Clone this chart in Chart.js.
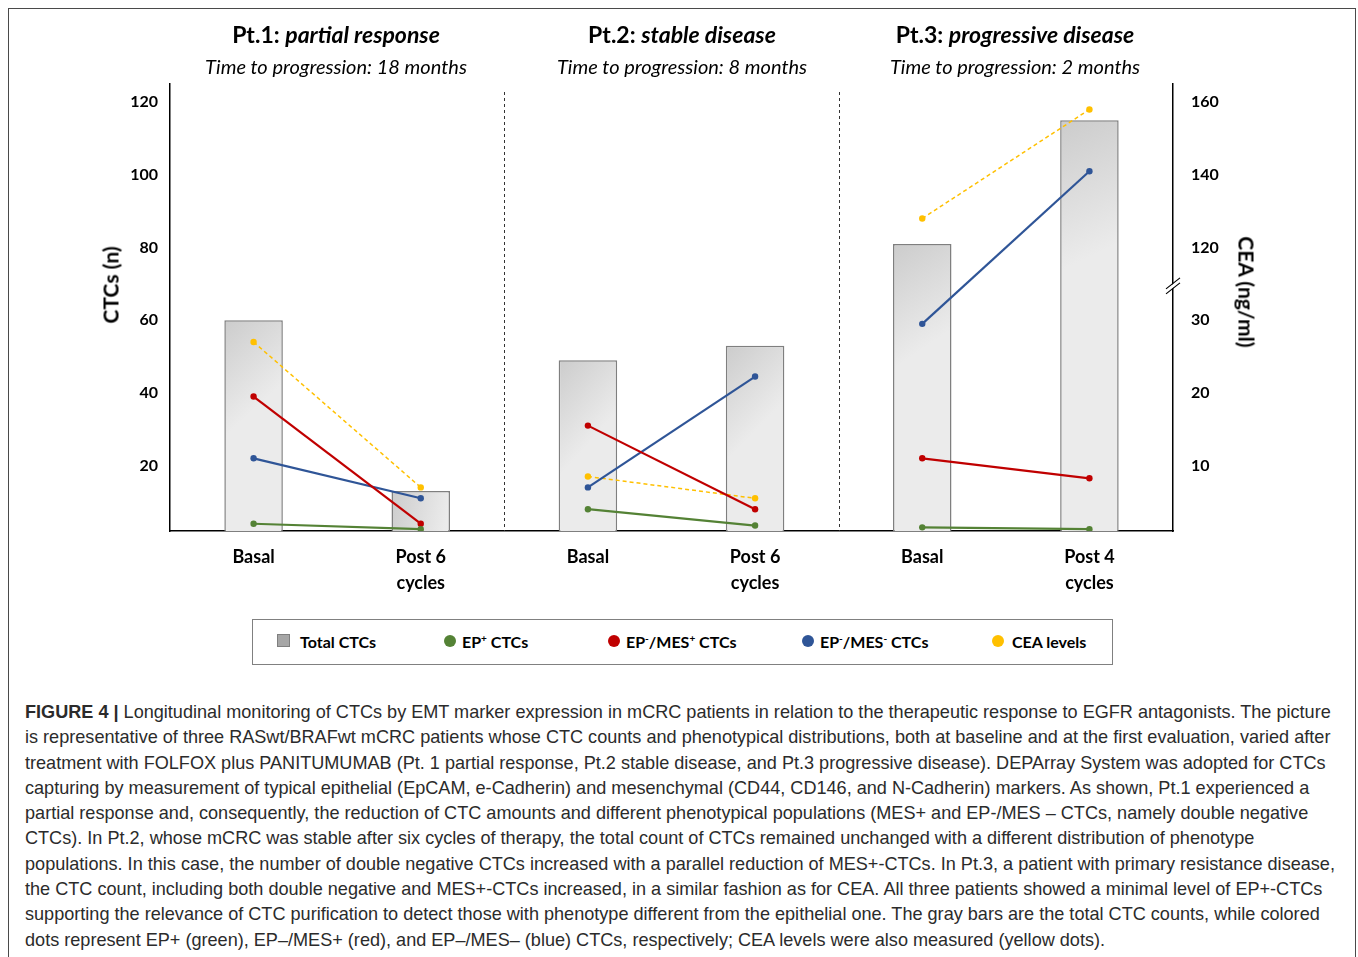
<!DOCTYPE html>
<html>
<head>
<meta charset="utf-8">
<script src="https://cdn.jsdelivr.net/npm/chart.js@4.4.1/dist/chart.umd.min.js"></script>
<style>
  body { margin: 0; background: #fff; width: 1358px; height: 957px; overflow: hidden; position: relative; font-family: Lato, "Open Sans", sans-serif; }
  #frame { position: absolute; left: 8px; top: 8px; width: 1348px; height: 1000px; border: 1.5px solid #4a4a4a; box-sizing: border-box; }
  #wrap { position: absolute; left: 0; top: 0; }
  .ttl { position: absolute; transform: translateX(-50%); white-space: nowrap; color: #000; }
  .ttl.main { top: 20px; font-size: 23px; font-weight: 700; }
  .ttl.sub { top: 54px; font-size: 20px; font-style: italic; }
  .axt { position: absolute; font-size: 21px; font-weight: 700; white-space: nowrap; color: #000; }
  #legend { position: absolute; left: 252px; top: 619px; width: 861px; height: 46px; border: 1.5px solid #808080; box-sizing: border-box; }
  .lg { position: absolute; top: 12px; font-size: 16px; font-weight: 700; white-space: nowrap; color: #000; }
  .lg sup { font-size: 10px; vertical-align: 6px; line-height: 0; }
  .sw { position: absolute; top: 15px; width: 12px; height: 12px; border-radius: 50%; }
  #caption { position: absolute; left: 25px; top: 700px; width: 1320px; font-family: "Liberation Sans", sans-serif; font-size: 18.1px; line-height: 25.3px; color: #2b2b2b; }
  #caption div { white-space: nowrap; }
</style>
</head>
<body>
<div id="frame"></div>
<div id="wrap"><canvas id="myChart" width="1358" height="610"></canvas></div>
<div id="titles"></div>
<div class="axt" style="left:110px; top:285px; transform: translate(-50%,-50%) rotate(-90deg);">CTCs (n)</div>
<div class="axt" style="left:1247px; top:292px; transform: translate(-50%,-50%) rotate(90deg);">CEA (ng/ml)</div>
<div id="legend"></div>
<div id="caption"></div>
<script>
// panels
const patients = ["Pt.1:", "Pt.2:", "Pt.3:"];
const responses = ["partial response", "stable disease", "progressive disease"];
const progression = ["Time to progression: 18 months", "Time to progression: 8 months", "Time to progression: 2 months"];
const titleX = [336, 682, 1015];

// chart data
const categories = [["Basal"], ["Post 6", "cycles"], ["Basal"], ["Post 6", "cycles"], ["Basal"], ["Post 4", "cycles"]];
const totalCTCs = [60, 13, 49, 53, 81, 115];
const epPos = [4, 2.5, 8, 3.5, 3, 2.5];
const epNegMesPos = [39, 4, 31, 8, 22, 16.5];
const epNegMesNeg = [22, 11, 14, 44.5, 59, 101];
const ceaLevels = [27, 7, 8.5, 5.5, 128, 158];
const ctcTicks = [20, 40, 60, 80, 100, 120];
const ceaTicks = [10, 20, 30, 120, 140, 160];

const legendNames = ["Total CTCs", "EP<sup>+</sup> CTCs", "EP<sup>-</sup>/MES<sup>+</sup> CTCs", "EP<sup>-</sup>/MES<sup>-</sup> CTCs", "CEA levels"];
const colors = ["#a6a6a6", "#548235", "#c00000", "#2f5597", "#ffc000"];

// titles
let html = "";
for (let i = 0; i < 3; i++) {
    html += '<div class="ttl main" style="left:' + titleX[i] + 'px">' + patients[i] + ' <i>' + responses[i] + '</i></div>';
    html += '<div class="ttl sub" style="left:' + titleX[i] + 'px">' + progression[i] + '</div>';
}
document.getElementById("titles").innerHTML = html;

// legend
const lgPos = [[24, 47], [191, 209], [355, 373], [549, 567], [739, 759]];
let lg = "";
legendNames.forEach(function (name, i) {
    if (i === 0) {
        lg += '<span class="sw" style="left:' + lgPos[i][0] + 'px; border-radius:0; background:' + colors[0] + '; border:1.5px solid #7f7f7f; width:11px; height:11px; top:14px"></span>';
    } else {
        lg += '<span class="sw" style="left:' + lgPos[i][0] + 'px; background:' + colors[i] + '"></span>';
    }
    lg += '<span class="lg" style="left:' + lgPos[i][1] + 'px">' + name + '</span>';
});
document.getElementById("legend").innerHTML = lg;

// caption
const captionLines = [
    "<b>FIGURE 4 |</b> Longitudinal monitoring of CTCs by EMT marker expression in mCRC patients in relation to the therapeutic response to EGFR antagonists. The picture",
    "is representative of three RASwt/BRAFwt mCRC patients whose CTC counts and phenotypical distributions, both at baseline and at the first evaluation, varied after",
    "treatment with FOLFOX plus PANITUMUMAB (Pt. 1 partial response, Pt.2 stable disease, and Pt.3 progressive disease). DEPArray System was adopted for CTCs",
    "capturing by measurement of typical epithelial (EpCAM, e-Cadherin) and mesenchymal (CD44, CD146, and N-Cadherin) markers. As shown, Pt.1 experienced a",
    "partial response and, consequently, the reduction of CTC amounts and different phenotypical populations (MES+ and EP-/MES \u2013 CTCs, namely double negative",
    "CTCs). In Pt.2, whose mCRC was stable after six cycles of therapy, the total count of CTCs remained unchanged with a different distribution of phenotype",
    "populations. In this case, the number of double negative CTCs increased with a parallel reduction of MES+-CTCs. In Pt.3, a patient with primary resistance disease,",
    "the CTC count, including both double negative and MES+-CTCs increased, in a similar fashion as for CEA. All three patients showed a minimal level of EP+-CTCs",
    "supporting the relevance of CTC purification to detect those with phenotype different from the epithelial one. The gray bars are the total CTC counts, while colored",
    "dots represent EP+ (green), EP\u2013/MES+ (red), and EP\u2013/MES\u2013 (blue) CTCs, respectively; CEA levels were also measured (yellow dots)."
];
document.getElementById("caption").innerHTML = captionLines.map(function (l) { return "<div>" + l + "</div>"; }).join("");

// CEA axis is broken between 30 and 120
function ceaToAxis(v) {
    if (v <= 30) return v * 2;
    if (v >= 120) return v - 40;
    return 60 + (v - 30) * 20 / 90;
}

class BrokenScale extends Chart.LinearScale {
    getPixelForValue(v) {
        return super.getPixelForValue(ceaToAxis(v));
    }
}
BrokenScale.id = "brokenLinear";
BrokenScale.defaults = Chart.LinearScale.defaults;
Chart.register(BrokenScale);

const decor = {
    id: "decor",
    beforeDatasetsDraw(chart) {
        const c = chart.ctx, area = chart.chartArea, x = chart.scales.x;
        c.save();
        c.strokeStyle = "#333";
        c.lineWidth = 1;
        c.setLineDash([3, 3]);
        [1.5, 3.5].forEach(function (v) {
            const px = Math.round(x.getPixelForValue(v)) + 0.5;
            c.beginPath();
            c.moveTo(px, area.top + 8);
            c.lineTo(px, area.bottom);
            c.stroke();
        });
        c.restore();
    },
    afterDraw(chart) {
        const c = chart.ctx, y2 = chart.scales.y2;
        const px = y2.left, py = y2.getPixelForValue(75);
        c.save();
        c.fillStyle = "#fff";
        c.beginPath();
        c.moveTo(px - 6, py + 5); c.lineTo(px + 6, py - 5); c.lineTo(px + 6, py - 1); c.lineTo(px - 6, py + 9);
        c.fill();
        c.strokeStyle = "#000";
        c.lineWidth = 1.2;
        c.beginPath();
        c.moveTo(px - 7, py + 5); c.lineTo(px + 7, py - 6);
        c.moveTo(px - 7, py + 10); c.lineTo(px + 7, py - 1);
        c.stroke();
        c.restore();
    }
};

function hideJoins(color) {
    return function (ctx) { return ctx.p0DataIndex % 2 === 1 ? "rgba(0,0,0,0)" : color; };
}

function lineSet(label, data, color, axis, dash) {
    return {
        type: "line",
        label: label,
        data: data,
        yAxisID: axis,
        borderColor: color,
        backgroundColor: color,
        borderWidth: dash ? 1.5 : 2.2,
        borderDash: dash ? [4, 3] : [],
        pointRadius: 3.2,
        pointHoverRadius: 3.2,
        pointBorderWidth: 0,
        fill: false,
        order: 1,
        segment: { borderColor: hideJoins(color) }
    };
}

function barFill(ctx) {
    const chart = ctx.chart;
    if (!chart.chartArea || ctx.type !== "data") return "#d9d9d9";
    const x = chart.scales.x.getPixelForValue(ctx.dataIndex);
    const top = chart.scales.y.getPixelForValue(ctx.raw);
    const h = chart.chartArea.bottom - top;
    const g = chart.ctx.createLinearGradient(x - 29, top, x + 29, top + h * 0.3);
    g.addColorStop(0, "#cccccc");
    g.addColorStop(1, "#ebebeb");
    return g;
}

const tickFont = { family: "Lato", size: 16, weight: "bold" };

new Chart("myChart", {
    data: {
        labels: categories,
        datasets: [
            {
                type: "bar",
                label: "Total CTCs",
                data: totalCTCs,
                yAxisID: "y",
                backgroundColor: barFill,
                borderColor: "#7f7f7f",
                borderWidth: 1.5,
                borderSkipped: "bottom",
                barPercentage: 0.35,
                categoryPercentage: 1,
                order: 10
            },
            lineSet("EP+ CTCs", epPos, colors[1], "y", false),
            lineSet("EP-/MES+ CTCs", epNegMesPos, colors[2], "y", false),
            lineSet("EP-/MES- CTCs", epNegMesNeg, colors[3], "y", false),
            lineSet("CEA levels", ceaLevels, colors[4], "y2", true)
        ]
    },
    options: {
        responsive: false,
        animation: false,
        devicePixelRatio: 1,
        layout: { padding: { top: 84, left: 0, right: 0, bottom: 0 } },
        plugins: { legend: { display: false }, tooltip: { enabled: false } },
        scales: {
            x: {
                type: "category",
                grid: { display: false, drawTicks: false },
                border: { display: true, color: "#000", width: 1.5 },
                ticks: { color: "#000", font: { family: "Lato", size: 18, weight: "bold", lineHeight: 1.4 }, padding: 14, maxRotation: 0, autoSkip: false },
                afterFit: function (s) { s.height = 79; }
            },
            y: {
                type: "linear",
                position: "left",
                min: 2,
                max: 125,
                grid: { display: false, drawTicks: false },
                border: { display: true, color: "#000", width: 1.5 },
                ticks: { color: "#000", font: tickFont, padding: 12 },
                afterBuildTicks: function (s) { s.ticks = ctcTicks.map(function (v) { return { value: v }; }); },
                afterFit: function (s) { s.width = 170; }
            },
            y2: {
                type: "brokenLinear",
                position: "right",
                min: 2,
                max: 125,
                grid: { display: false, drawTicks: false },
                border: { display: true, color: "#000", width: 1.5 },
                ticks: { color: "#000", font: tickFont, padding: 18 },
                afterBuildTicks: function (s) { s.ticks = ceaTicks.map(function (v) { return { value: v }; }); },
                afterFit: function (s) { s.width = 185; }
            }
        }
    },
    plugins: [decor]
});
</script>
</body>
</html>
